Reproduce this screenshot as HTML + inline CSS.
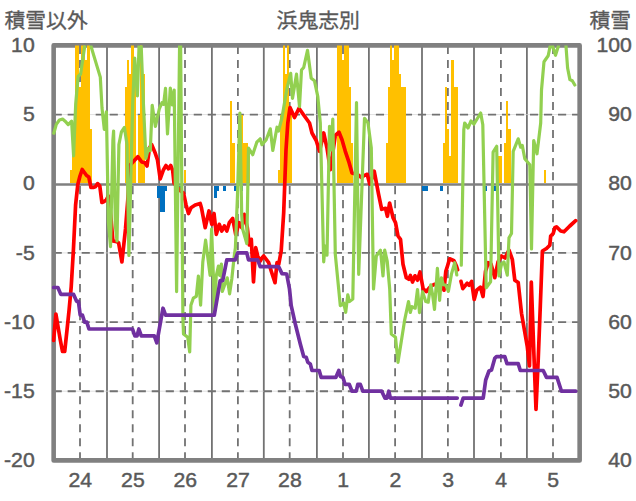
<!DOCTYPE html><html><head><meta charset="utf-8"><title>chart</title><style>html,body{margin:0;padding:0;background:#fff;font-family:"Liberation Sans",sans-serif}svg{display:block}</style></head><body><svg width="636" height="501" viewBox="0 0 636 501" style="display:block"><rect width="636" height="501" fill="#fff"/><defs><clipPath id="c"><rect x="53.65" y="45.4" width="526.0" height="415.0"/></clipPath></defs><g><line x1="107.00" y1="45.4" x2="107.00" y2="460.4" stroke="#727272" stroke-width="1.8"/><line x1="159.10" y1="45.4" x2="159.10" y2="460.4" stroke="#727272" stroke-width="1.8"/><line x1="211.90" y1="45.4" x2="211.90" y2="460.4" stroke="#727272" stroke-width="1.8"/><line x1="263.80" y1="45.4" x2="263.80" y2="460.4" stroke="#727272" stroke-width="1.8"/><line x1="316.90" y1="45.4" x2="316.90" y2="460.4" stroke="#727272" stroke-width="1.8"/><line x1="368.90" y1="45.4" x2="368.90" y2="460.4" stroke="#727272" stroke-width="1.8"/><line x1="422.00" y1="45.4" x2="422.00" y2="460.4" stroke="#727272" stroke-width="1.8"/><line x1="474.00" y1="45.4" x2="474.00" y2="460.4" stroke="#727272" stroke-width="1.8"/><line x1="526.90" y1="45.4" x2="526.90" y2="460.4" stroke="#727272" stroke-width="1.8"/><line x1="80.00" y1="45.4" x2="80.00" y2="460.4" stroke="#727272" stroke-width="1.8" stroke-dasharray="8.15 5.86" stroke-dashoffset="13.51"/><line x1="132.70" y1="45.4" x2="132.70" y2="460.4" stroke="#727272" stroke-width="1.8" stroke-dasharray="8.15 5.86" stroke-dashoffset="13.51"/><line x1="185.00" y1="45.4" x2="185.00" y2="460.4" stroke="#727272" stroke-width="1.8" stroke-dasharray="8.15 5.86" stroke-dashoffset="13.51"/><line x1="237.90" y1="45.4" x2="237.90" y2="460.4" stroke="#727272" stroke-width="1.8" stroke-dasharray="8.15 5.86" stroke-dashoffset="13.51"/><line x1="289.70" y1="45.4" x2="289.70" y2="460.4" stroke="#727272" stroke-width="1.8" stroke-dasharray="8.15 5.86" stroke-dashoffset="13.51"/><line x1="343.00" y1="45.4" x2="343.00" y2="460.4" stroke="#727272" stroke-width="1.8" stroke-dasharray="8.15 5.86" stroke-dashoffset="13.51"/><line x1="395.10" y1="45.4" x2="395.10" y2="460.4" stroke="#727272" stroke-width="1.8" stroke-dasharray="8.15 5.86" stroke-dashoffset="13.51"/><line x1="447.90" y1="45.4" x2="447.90" y2="460.4" stroke="#727272" stroke-width="1.8" stroke-dasharray="8.15 5.86" stroke-dashoffset="13.51"/><line x1="500.90" y1="45.4" x2="500.90" y2="460.4" stroke="#727272" stroke-width="1.8" stroke-dasharray="8.15 5.86" stroke-dashoffset="13.51"/><line x1="553.00" y1="45.4" x2="553.00" y2="460.4" stroke="#727272" stroke-width="1.8" stroke-dasharray="8.15 5.86" stroke-dashoffset="13.51"/><line x1="53.65" y1="114.57" x2="579.65" y2="114.57" stroke="#d4d4d4" stroke-width="0.7"/><line x1="53.65" y1="114.57" x2="579.65" y2="114.57" stroke="#727272" stroke-width="1.8" stroke-dasharray="8.15 5.86" stroke-dashoffset="0"/><line x1="53.65" y1="252.90" x2="579.65" y2="252.90" stroke="#d4d4d4" stroke-width="0.7"/><line x1="53.65" y1="252.90" x2="579.65" y2="252.90" stroke="#727272" stroke-width="1.8" stroke-dasharray="8.15 5.86" stroke-dashoffset="0"/><line x1="53.65" y1="322.07" x2="579.65" y2="322.07" stroke="#d4d4d4" stroke-width="0.7"/><line x1="53.65" y1="322.07" x2="579.65" y2="322.07" stroke="#727272" stroke-width="1.8" stroke-dasharray="8.15 5.86" stroke-dashoffset="0"/><line x1="53.65" y1="391.23" x2="579.65" y2="391.23" stroke="#d4d4d4" stroke-width="0.7"/><line x1="53.65" y1="391.23" x2="579.65" y2="391.23" stroke="#727272" stroke-width="1.8" stroke-dasharray="8.15 5.86" stroke-dashoffset="0"/></g><rect x="53.65" y="45.4" width="526.0" height="415.0" fill="none" stroke="#808080" stroke-width="4.6" stroke-linejoin="round"/><line x1="53.65" y1="184.53" x2="579.65" y2="184.53" stroke="#808080" stroke-width="2.6"/><g clip-path="url(#c)" shape-rendering="crispEdges"><rect x="69.94" y="170.20" width="2.39" height="13.03" fill="#FFC000"/><rect x="72.13" y="156.40" width="2.39" height="26.83" fill="#FFC000"/><rect x="75.00" y="45.40" width="1.72" height="137.83" fill="#FFC000"/><rect x="76.52" y="45.40" width="2.39" height="137.83" fill="#FFC000"/><rect x="78.71" y="87.40" width="2.39" height="95.83" fill="#FFC000"/><rect x="80.90" y="45.40" width="2.39" height="137.83" fill="#FFC000"/><rect x="83.09" y="45.40" width="2.39" height="137.83" fill="#FFC000"/><rect x="85.28" y="59.80" width="2.39" height="123.43" fill="#FFC000"/><rect x="87.48" y="45.40" width="2.39" height="137.83" fill="#FFC000"/><rect x="89.67" y="128.80" width="2.39" height="54.43" fill="#FFC000"/><rect x="124.74" y="87.40" width="2.39" height="95.83" fill="#FFC000"/><rect x="126.93" y="59.80" width="2.39" height="123.43" fill="#FFC000"/><rect x="129.12" y="73.60" width="2.39" height="109.63" fill="#FFC000"/><rect x="131.32" y="45.40" width="2.39" height="137.83" fill="#FFC000"/><rect x="133.51" y="59.80" width="2.39" height="123.43" fill="#FFC000"/><rect x="137.89" y="115.00" width="2.39" height="68.23" fill="#FFC000"/><rect x="140.08" y="45.40" width="2.39" height="137.83" fill="#FFC000"/><rect x="142.28" y="73.60" width="2.39" height="109.63" fill="#FFC000"/><rect x="183.92" y="170.20" width="2.39" height="13.03" fill="#FFC000"/><rect x="230.26" y="101.20" width="1.79" height="82.03" fill="#FFC000"/><rect x="232.15" y="142.60" width="2.39" height="40.63" fill="#FFC000"/><rect x="236.53" y="156.40" width="2.39" height="26.83" fill="#FFC000"/><rect x="238.72" y="142.60" width="2.39" height="40.63" fill="#FFC000"/><rect x="240.92" y="115.00" width="2.39" height="68.23" fill="#FFC000"/><rect x="243.11" y="142.60" width="2.39" height="40.63" fill="#FFC000"/><rect x="245.30" y="142.60" width="2.39" height="40.63" fill="#FFC000"/><rect x="247.49" y="156.40" width="2.39" height="26.83" fill="#FFC000"/><rect x="278.18" y="170.20" width="2.39" height="13.03" fill="#FFC000"/><rect x="280.37" y="115.00" width="2.39" height="68.23" fill="#FFC000"/><rect x="282.56" y="45.40" width="2.39" height="137.83" fill="#FFC000"/><rect x="284.76" y="73.60" width="2.39" height="109.63" fill="#FFC000"/><rect x="286.95" y="45.40" width="2.39" height="137.83" fill="#FFC000"/><rect x="289.14" y="115.00" width="2.39" height="68.23" fill="#FFC000"/><rect x="337.36" y="45.40" width="2.39" height="137.83" fill="#FFC000"/><rect x="339.56" y="45.40" width="2.39" height="137.83" fill="#FFC000"/><rect x="341.75" y="59.80" width="2.39" height="123.43" fill="#FFC000"/><rect x="343.94" y="45.40" width="2.39" height="137.83" fill="#FFC000"/><rect x="346.13" y="45.40" width="2.39" height="137.83" fill="#FFC000"/><rect x="348.32" y="87.40" width="2.39" height="95.83" fill="#FFC000"/><rect x="350.52" y="142.60" width="2.39" height="40.63" fill="#FFC000"/><rect x="385.59" y="142.60" width="2.39" height="40.63" fill="#FFC000"/><rect x="387.78" y="87.40" width="2.39" height="95.83" fill="#FFC000"/><rect x="389.97" y="45.40" width="2.39" height="137.83" fill="#FFC000"/><rect x="392.16" y="59.80" width="2.39" height="123.43" fill="#FFC000"/><rect x="394.36" y="45.40" width="2.39" height="137.83" fill="#FFC000"/><rect x="396.55" y="45.40" width="2.39" height="137.83" fill="#FFC000"/><rect x="398.74" y="73.60" width="2.39" height="109.63" fill="#FFC000"/><rect x="400.93" y="87.40" width="2.39" height="95.83" fill="#FFC000"/><rect x="403.12" y="87.40" width="2.39" height="95.83" fill="#FFC000"/><rect x="442.58" y="142.60" width="2.39" height="40.63" fill="#FFC000"/><rect x="444.77" y="87.40" width="2.39" height="95.83" fill="#FFC000"/><rect x="446.96" y="128.80" width="2.39" height="54.43" fill="#FFC000"/><rect x="449.16" y="156.40" width="2.39" height="26.83" fill="#FFC000"/><rect x="451.35" y="59.80" width="2.39" height="123.43" fill="#FFC000"/><rect x="453.54" y="87.40" width="2.39" height="95.83" fill="#FFC000"/><rect x="455.73" y="87.40" width="2.39" height="95.83" fill="#FFC000"/><rect x="497.38" y="156.40" width="2.39" height="26.83" fill="#FFC000"/><rect x="499.57" y="156.40" width="2.39" height="26.83" fill="#FFC000"/><rect x="503.96" y="142.60" width="2.39" height="40.63" fill="#FFC000"/><rect x="506.30" y="101.20" width="2.09" height="82.03" fill="#FFC000"/><rect x="508.34" y="128.80" width="2.39" height="54.43" fill="#FFC000"/><rect x="543.71" y="170.20" width="1.79" height="13.03" fill="#FFC000"/><rect x="157.47" y="185.83" width="2.69" height="11.97" fill="#0070C0"/><rect x="159.66" y="185.83" width="2.69" height="25.77" fill="#0070C0"/><rect x="161.85" y="185.83" width="2.69" height="25.77" fill="#0070C0"/><rect x="164.05" y="185.83" width="2.69" height="5.07" fill="#0070C0"/><rect x="179.39" y="185.83" width="2.69" height="5.07" fill="#0070C0"/><rect x="214.46" y="185.83" width="2.69" height="11.97" fill="#0070C0"/><rect x="216.65" y="185.83" width="2.69" height="5.07" fill="#0070C0"/><rect x="223.23" y="185.83" width="2.69" height="5.07" fill="#0070C0"/><rect x="234.19" y="185.83" width="2.69" height="5.07" fill="#0070C0"/><rect x="236.38" y="185.83" width="2.69" height="11.97" fill="#0070C0"/><rect x="240.77" y="185.83" width="2.69" height="5.07" fill="#0070C0"/><rect x="421.83" y="185.83" width="2.69" height="5.07" fill="#0070C0"/><rect x="424.02" y="185.83" width="2.69" height="5.07" fill="#0070C0"/><rect x="425.33" y="185.83" width="2.69" height="5.07" fill="#0070C0"/><rect x="440.24" y="185.83" width="2.69" height="5.07" fill="#0070C0"/><rect x="484.08" y="185.83" width="2.69" height="5.07" fill="#0070C0"/><rect x="492.85" y="185.83" width="2.69" height="5.07" fill="#0070C0"/></g><defs><clipPath id="c2"><rect x="51.65" y="45.5" width="530.0" height="417.0"/></clipPath></defs><g clip-path="url(#c2)"><path d="M53.6,340.5 L55.9,314.0 L58.1,327.0 L60.3,340.0 L62.5,351.5 L64.7,351.5 L66.9,331.0 L69.1,310.0 L71.2,287.0 L73.4,250.0 L75.6,205.0 L77.8,184.5 L80.0,176.0 L82.2,169.5 L84.4,172.5 L86.6,175.5 L88.8,177.0 L91.0,187.5 L93.2,187.5 L95.4,186.8 L97.6,183.6 L99.8,186.0 L101.9,202.5 L104.1,201.5 L106.3,200.0 L108.5,196.0 L110.7,215.0 L112.9,241.0 L116.7,241.6 L118.6,242.8 L121.9,262.0 L125.5,229.0 L127.8,200.0 L129.7,165.4 L133.4,161.5 L137.8,156.7 L141.8,162.0 L144.7,162.7 L147.0,166.0 L149.5,148.0 L151.6,144.5 L155.3,153.3 L157.5,160.0 L160.2,178.8 L163.5,169.7 L166.0,165.5 L168.5,168.8 L170.7,165.5 L172.7,170.5 L174.0,183.0 L178.0,188.0 L181.0,191.3 L183.5,193.0 L186.0,204.7 L188.5,213.5 L191.0,207.7 L195.2,205.0 L200.2,203.5 L201.5,208.0 L205.2,227.7 L209.0,211.0 L211.8,224.3 L214.0,213.5 L216.3,234.3 L219.3,224.3 L221.8,231.0 L224.3,226.0 L226.8,231.0 L229.3,222.7 L232.7,218.5 L235.7,234.3 L239.3,222.7 L241.8,227.7 L244.3,214.3 L247.3,227.7 L249.3,245.0 L251.3,239.3 L253.5,281.8 L255.7,247.7 L257.7,256.0 L260.2,261.0 L262.0,258.0 L263.7,256.0 L268.7,262.7 L271.2,271.0 L275.0,282.7 L277.0,262.7 L278.7,264.3 L281.2,251.0 L283.7,212.7 L286.0,150.0 L287.8,123.0 L290.0,107.5 L294.5,117.5 L299.0,108.3 L303.7,115.0 L309.5,123.0 L312.0,133.0 L316.2,140.5 L319.5,151.3 L323.7,133.0 L327.0,148.0 L330.3,169.7 L335.3,135.5 L339.0,132.2 L342.0,139.7 L345.3,151.3 L348.7,161.3 L352.0,173.0 L357.8,174.7 L361.5,177.5 L364.1,175.6 L367.2,174.3 L369.7,184.0 L372.0,178.0 L374.2,171.2 L378.6,194.4 L381.7,209.3 L385.5,208.3 L387.4,216.3 L389.6,203.0 L393.0,217.7 L395.5,222.7 L398.0,236.0 L400.5,239.3 L403.0,264.3 L406.3,277.7 L408.8,279.3 L410.4,275.5 L412.5,282.0 L415.0,275.8 L417.5,280.2 L420.0,272.0 L423.2,289.0 L426.4,291.5 L428.9,288.3 L431.4,285.8 L433.9,284.6 L438.0,283.5 L441.5,282.5 L444.0,290.2 L445.8,271.4 L447.5,266.0 L449.6,258.8 L454.0,260.7 L456.5,266.3 L457.6,269.8" fill="none" stroke="#FF0000" stroke-width="3.7" stroke-linejoin="round" stroke-linecap="round"/><path d="M461.0,281.4 L462.8,288.6 L467.2,283.3 L469.1,285.2 L471.6,281.4 L474.2,299.5 L476.7,290.2 L480.4,287.1 L483.0,296.5 L485.5,271.4 L488.2,262.7 L491.0,264.0 L494.8,277.7 L498.0,262.0 L501.5,256.0 L505.0,258.0 L509.0,250.2 L512.3,259.3 L514.8,280.2 L518.2,282.5 L521.5,313.3 L527.3,346.7 L529.5,366.0 L531.3,282.0 L533.6,346.0 L536.0,409.5 L538.2,360.0 L540.3,306.0 L542.4,251.0 L546.5,248.5 L549.8,245.2 L550.7,236.0 L553.2,233.5 L554.8,227.7 L556.5,226.8 L560.7,231.0 L564.0,231.8 L569.8,226.0 L575.7,220.7" fill="none" stroke="#FF0000" stroke-width="3.7" stroke-linejoin="round" stroke-linecap="round"/></g><g clip-path="url(#c2)"><path d="M53.8,133.2 L56.3,124.4 L59.4,120.0 L62.6,119.1 L65.1,121.2 L68.2,124.6 L71.6,121.2 L73.6,155.8 L75.7,104.0 L78.1,76.5 L80.6,74.0 L85.2,43.0 L90.0,43.0 L100.3,77.1 L102.0,108.0 L104.3,129.4 L106.4,111.8 L108.4,222.0 L110.5,246.6 L112.9,140.0 L113.6,131.0 L115.4,226.0 L117.0,241.0 L118.9,144.5 L121.4,132.0 L124.4,127.5 L127.0,144.5 L128.9,255.4 L132.7,103.0 L134.7,58.2 L137.4,96.0 L139.2,41.0 L141.0,41.0 L143.4,103.0 L145.9,158.3 L148.4,148.3 L150.3,150.8 L152.2,105.3 L155.4,126.5 L159.4,108.5 L162.0,102.7 L163.6,104.3 L165.5,88.4 L167.5,134.0 L170.3,88.0 L172.4,105.0 L174.2,90.0 L176.6,291.6 L179.6,43.5 L180.6,43.5 L182.9,318.0 L183.5,334.0 L187.7,337.3 L189.7,352.0 L190.9,305.2 L193.3,298.2 L196.3,296.4 L198.4,276.0 L200.6,305.2 L202.8,262.0 L205.6,240.2 L210.1,275.3 L211.6,229.0 L214.7,311.0 L216.2,276.0 L218.4,266.0 L219.6,275.3 L221.4,264.0 L222.3,291.5 L225.0,284.0 L227.2,277.8 L229.6,293.8 L231.8,279.0 L234.2,256.4 L235.4,247.7 L237.5,195.0 L239.9,113.0 L241.7,215.0 L242.7,229.3 L246.8,243.5 L248.5,148.0 L252.7,154.7 L256.8,142.2 L260.2,138.8 L262.0,144.7 L266.2,139.7 L270.3,128.8 L272.8,150.5 L277.0,127.2 L278.5,131.0 L282.0,117.5 L287.0,88.3 L290.7,73.3 L292.5,98.3 L296.5,74.2 L299.5,106.7 L301.5,70.0 L303.7,67.5 L307.5,50.3 L311.2,78.3 L314.5,80.8 L317.8,96.7 L320.3,123.0 L323.7,261.8 L325.0,246.0 L327.0,255.2 L329.5,126.3 L331.0,150.0 L332.8,119.2 L335.3,254.3 L340.3,305.7 L343.7,303.0 L345.7,312.3 L347.8,294.8 L349.5,301.5 L352.8,299.0 L356.5,102.5 L358.7,274.3 L364.5,118.3 L368.0,123.0 L371.3,148.0 L373.5,289.0 L376.3,256.0 L380.5,250.2 L383.0,276.0 L384.7,250.2 L387.2,261.0 L389.7,289.0 L391.3,334.0 L395.5,337.3 L398.0,362.3 L404.7,319.8 L408.5,301.5 L410.3,312.5 L411.9,306.6 L415.2,308.2 L417.5,289.5 L419.5,312.6 L422.6,291.8 L425.7,301.5 L428.2,302.2 L430.8,284.8 L432.5,294.0 L434.5,309.5 L437.4,268.4 L439.6,300.3 L441.4,277.8 L443.3,284.6 L445.8,285.2 L448.4,291.3 L451.5,273.9 L454.7,262.7 L456.8,275.0" fill="none" stroke="#92D050" stroke-width="3.2" stroke-linejoin="round" stroke-linecap="round"/><path d="M461.3,265.2 L463.8,129.7 L464.7,123.0 L468.0,128.0 L471.0,121.0 L474.0,124.0 L480.7,113.0 L482.8,124.7 L486.2,287.7 L490.6,281.8 L493.1,152.2 L496.7,146.3 L499.0,276.0 L501.5,264.3 L504.0,262.0 L507.3,275.2 L509.0,237.7 L511.5,233.5 L513.2,151.3 L518.2,138.8 L520.7,147.2 L522.3,145.5 L524.8,158.8 L529.8,164.7 L531.5,249.0 L533.7,140.5 L537.0,153.8 L540.7,123.0 L541.5,90.0 L544.0,61.7 L548.2,55.8 L550.7,43.5 L551.8,43.5 L555.5,55.3 L559.2,43.5 L565.8,43.5 L567.6,68.0 L569.9,79.6 L572.3,80.8 L574.8,85.0" fill="none" stroke="#92D050" stroke-width="3.2" stroke-linejoin="round" stroke-linecap="round"/></g><g clip-path="url(#c2)"><path d="M53.6,287.5 L57.9,287.5 L60.8,294.4 L73.6,294.4 L76.6,301.3 L78.4,301.3 L80.2,315.1 L82.4,315.1 L84.6,322.1 L86.8,322.1 L89.0,329.0 L132.5,329.0 L134.9,335.9 L137.0,335.9 L138.9,329.0 L141.3,335.9 L154.3,335.9 L156.8,342.8 L163.0,308.2 L165.6,315.1 L214.3,315.1 L220.2,280.6 L222.7,280.6 L226.8,259.8 L235.2,259.8 L237.7,252.9 L246.8,252.9 L248.5,259.8 L257.7,259.8 L260.2,266.7 L278.7,266.7 L282.0,273.6 L286.7,274.0 L289.5,289.0 L291.2,305.7 L295.3,324.0 L300.3,344.0 L303.7,356.5 L306.2,357.3 L307.8,362.3 L310.3,364.0 L312.0,370.5 L319.2,370.5 L321.2,377.4 L335.8,377.4 L338.8,370.5 L340.5,376.5 L343.0,377.4 L345.0,384.3 L349.2,384.3 L352.0,391.2 L356.3,391.2 L357.8,384.3 L360.3,384.3 L362.8,391.2 L381.7,391.2 L385.0,398.1 L387.0,398.1 L388.8,391.2 L390.4,398.1 L457.2,398.1" fill="none" stroke="#7030A0" stroke-width="3.7" stroke-linejoin="round" stroke-linecap="round"/><path d="M460.9,405.1 L463.2,398.1 L483.2,398.1 L485.7,380.0 L489.0,371.0 L491.5,370.0 L494.8,358.3 L496.5,356.6 L504.8,356.6 L507.0,363.6 L518.2,363.6 L520.3,370.5 L543.2,370.5 L546.5,377.4 L557.0,377.4 L561.5,391.2 L575.7,391.2" fill="none" stroke="#7030A0" stroke-width="3.7" stroke-linejoin="round" stroke-linecap="round"/></g><g font-family="Liberation Sans, sans-serif" stroke="#595959" stroke-width="0.45"><text transform="translate(34.70,52.30) scale(1.04,1)" text-anchor="end" font-size="20.4" fill="#595959">10</text><text transform="translate(34.70,121.40) scale(1.04,1)" text-anchor="end" font-size="20.4" fill="#595959">5</text><text transform="translate(34.70,190.49) scale(1.04,1)" text-anchor="end" font-size="20.4" fill="#595959">0</text><text transform="translate(34.70,259.59) scale(1.04,1)" text-anchor="end" font-size="20.4" fill="#595959">-5</text><text transform="translate(34.70,328.69) scale(1.04,1)" text-anchor="end" font-size="20.4" fill="#595959">-10</text><text transform="translate(34.70,397.78) scale(1.04,1)" text-anchor="end" font-size="20.4" fill="#595959">-15</text><text transform="translate(34.70,466.88) scale(1.04,1)" text-anchor="end" font-size="20.4" fill="#595959">-20</text><text transform="translate(631.80,52.30) scale(1.04,1)" text-anchor="end" font-size="20.4" fill="#595959">100</text><text transform="translate(631.80,121.40) scale(1.04,1)" text-anchor="end" font-size="20.4" fill="#595959">90</text><text transform="translate(631.80,190.49) scale(1.04,1)" text-anchor="end" font-size="20.4" fill="#595959">80</text><text transform="translate(631.80,259.59) scale(1.04,1)" text-anchor="end" font-size="20.4" fill="#595959">70</text><text transform="translate(631.80,328.69) scale(1.04,1)" text-anchor="end" font-size="20.4" fill="#595959">60</text><text transform="translate(631.80,397.78) scale(1.04,1)" text-anchor="end" font-size="20.4" fill="#595959">50</text><text transform="translate(631.80,466.88) scale(1.04,1)" text-anchor="end" font-size="20.4" fill="#595959">40</text><text transform="translate(80.20,486.90) scale(1.04,1)" text-anchor="middle" font-size="20.4" fill="#595959">24</text><text transform="translate(132.90,486.90) scale(1.04,1)" text-anchor="middle" font-size="20.4" fill="#595959">25</text><text transform="translate(185.20,486.90) scale(1.04,1)" text-anchor="middle" font-size="20.4" fill="#595959">26</text><text transform="translate(238.10,486.90) scale(1.04,1)" text-anchor="middle" font-size="20.4" fill="#595959">27</text><text transform="translate(289.90,486.90) scale(1.04,1)" text-anchor="middle" font-size="20.4" fill="#595959">28</text><text transform="translate(343.20,486.90) scale(1.04,1)" text-anchor="middle" font-size="20.4" fill="#595959">1</text><text transform="translate(395.30,486.90) scale(1.04,1)" text-anchor="middle" font-size="20.4" fill="#595959">2</text><text transform="translate(448.10,486.90) scale(1.04,1)" text-anchor="middle" font-size="20.4" fill="#595959">3</text><text transform="translate(501.10,486.90) scale(1.04,1)" text-anchor="middle" font-size="20.4" fill="#595959">4</text><text transform="translate(553.20,486.90) scale(1.04,1)" text-anchor="middle" font-size="20.4" fill="#595959">5</text></g><text x="4.5" y="27.5" font-family="Liberation Sans, Noto Sans CJK JP, sans-serif" font-size="20.8" fill="#595959" stroke="#595959" stroke-width="0.33">積雪以外</text><text x="276.6" y="27.5" font-family="Liberation Sans, Noto Sans CJK JP, sans-serif" font-size="20.8" fill="#595959" stroke="#595959" stroke-width="0.33">浜鬼志別</text><text x="589.5" y="27.5" font-family="Liberation Sans, Noto Sans CJK JP, sans-serif" font-size="20.8" fill="#595959" stroke="#595959" stroke-width="0.33">積雪</text></svg></body></html>
